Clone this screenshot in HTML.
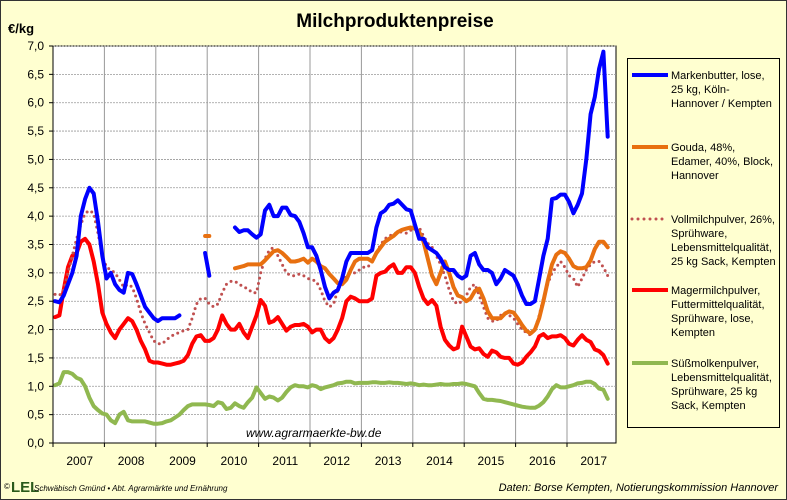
<!DOCTYPE html>
<html><head><meta charset="utf-8"><style>
body{margin:0;background:#ffffd0;}
svg{display:block;font-family:"Liberation Sans",sans-serif;}
</style></head><body>
<svg id="chart" width="787" height="500" viewBox="0 0 787 500" xmlns="http://www.w3.org/2000/svg">
<rect x="0.5" y="0.5" width="786" height="499" fill="#ffffd0" stroke="#333" stroke-width="1"/>
<text x="395" y="27" font-size="19" font-weight="bold" text-anchor="middle" fill="#000">Milchproduktenpreise</text>
<text x="8" y="33" font-size="13" font-weight="bold" fill="#000">€/kg</text>
<rect x="53" y="46" width="563" height="397" fill="#fff" stroke="#000" stroke-width="1"/>
<g id="grid"></g><g id="series"></g><g id="axes"></g>
<text x="246" y="437" font-size="12" font-style="italic" fill="#000">www.agrarmaerkte-bw.de</text>
<rect x="627.5" y="58.5" width="152" height="369" fill="#ffffd0" stroke="#000" stroke-width="1"/>
<g id="legend" font-size="11" fill="#000"></g>
<text x="4" y="489" font-size="8">©</text>
<text x="11" y="492" font-size="15" font-weight="bold" fill="#2a5a1a">LEL</text>
<text x="34" y="491" font-size="8" font-style="italic" fill="#000">Schwäbisch Gmünd • Abt. Agrarmärkte und Ernährung</text>
<text x="778" y="491" font-size="11" font-style="italic" text-anchor="end" fill="#000">Daten: Borse Kempten, Notierungskommission Hannover</text>
</svg>
<script>
const years=['2007','2008','2009','2010','2011','2012','2013','2014','2015','2016','2017'];
const yTicks=[0,0.5,1,1.5,2,2.5,3,3.5,4,4.5,5,5.5,6,6.5,7];
const N=null;
const butter=[2.5,2.48,2.6,2.8,3.0,3.3,4.0,4.3,4.5,4.4,3.9,3.3,2.9,3.0,2.8,2.7,2.65,3.0,2.98,2.8,2.6,2.4,2.3,2.2,2.15,2.2,2.2,2.2,2.2,2.25,N,N,N,N,N,3.35,2.95,N,N,N,N,N,3.8,3.72,3.75,3.75,3.68,3.62,3.68,4.1,4.2,4.0,4.0,4.15,4.15,4.02,4.0,3.9,3.7,3.45,3.45,3.3,3.05,2.75,2.55,2.65,2.7,2.9,3.2,3.35,3.35,3.35,3.35,3.35,3.4,3.8,4.05,4.1,4.2,4.22,4.28,4.2,4.12,4.1,3.85,3.6,3.6,3.45,3.4,3.35,3.25,3.1,3.05,3.05,2.95,2.9,2.95,3.3,3.35,3.15,3.05,3.05,3.0,2.8,2.9,3.05,3.0,2.95,2.8,2.6,2.45,2.45,2.5,2.9,3.3,3.6,4.3,4.32,4.38,4.38,4.25,4.05,4.2,4.4,5.0,5.8,6.1,6.6,6.9,5.4];
const gouda=[N,N,N,N,N,N,N,N,N,N,N,N,N,N,N,N,N,N,N,N,N,N,N,N,N,N,N,N,N,N,N,N,N,N,N,3.65,3.65,N,N,N,N,N,3.08,3.1,3.12,3.15,3.15,3.15,3.15,3.22,3.3,3.38,3.4,3.35,3.28,3.2,3.2,3.22,3.25,3.18,3.25,3.2,3.12,3.08,2.98,2.9,2.82,2.8,2.88,3.05,3.2,3.25,3.25,3.25,3.2,3.35,3.45,3.55,3.6,3.65,3.72,3.76,3.78,3.8,3.78,3.72,3.55,3.25,2.95,2.8,3.0,3.2,3.0,2.75,2.6,2.57,2.5,2.55,2.68,2.72,2.55,2.32,2.2,2.2,2.2,2.28,2.32,2.3,2.2,2.08,1.98,1.93,2.0,2.2,2.5,2.85,3.15,3.32,3.38,3.35,3.25,3.12,3.08,3.08,3.1,3.22,3.42,3.55,3.55,3.45];
const vollmilch=[2.62,2.6,2.7,3.0,3.3,3.6,3.85,4.05,4.1,4.05,3.7,3.3,3.1,3.05,3.0,2.88,2.75,2.8,2.75,2.55,2.3,2.1,1.95,1.8,1.75,1.75,1.82,1.88,1.92,1.95,1.98,2.0,2.2,2.45,2.55,2.55,2.45,2.4,2.45,2.65,2.8,2.85,2.85,2.8,2.75,2.72,2.65,2.65,3.0,3.25,3.4,3.45,3.3,3.15,3.0,2.95,2.95,2.98,2.95,2.9,2.88,2.85,2.7,2.5,2.4,2.45,2.7,2.85,2.95,3.0,3.0,3.05,3.1,3.1,3.2,3.35,3.5,3.6,3.65,3.68,3.72,3.72,3.7,3.75,3.78,3.8,3.65,3.52,3.45,3.3,3.15,2.95,2.7,2.5,2.45,2.5,2.6,2.75,2.8,2.6,2.4,2.2,2.15,2.15,2.25,2.3,2.25,2.2,2.1,2.0,1.95,1.9,2.0,2.25,2.55,2.8,3.0,3.1,3.2,3.1,2.95,2.9,2.75,2.9,3.05,3.15,3.2,3.2,3.1,2.95];
const mager=[2.22,2.25,2.7,3.1,3.3,3.35,3.55,3.6,3.5,3.2,2.8,2.3,2.1,1.95,1.85,2.0,2.1,2.2,2.15,2.0,1.8,1.65,1.45,1.42,1.42,1.4,1.38,1.38,1.4,1.42,1.45,1.55,1.75,1.88,1.9,1.8,1.8,1.85,2.0,2.25,2.1,2.0,2.0,2.1,1.95,1.85,2.05,2.25,2.52,2.42,2.12,2.15,2.22,2.1,1.98,2.05,2.08,2.08,2.1,2.05,1.95,2.0,2.0,1.85,1.78,1.85,2.0,2.2,2.5,2.58,2.55,2.5,2.5,2.5,2.55,2.95,3.0,3.02,3.1,3.15,3.0,3.0,3.1,3.1,3.0,2.75,2.55,2.45,2.52,2.42,2.05,1.82,1.72,1.65,1.68,2.05,1.88,1.7,1.65,1.67,1.57,1.52,1.63,1.6,1.52,1.5,1.5,1.4,1.38,1.42,1.52,1.6,1.7,1.88,1.92,1.85,1.88,1.88,1.9,1.85,1.75,1.72,1.82,1.9,1.82,1.78,1.65,1.62,1.55,1.4];
const molke=[1.02,1.05,1.25,1.25,1.22,1.15,1.12,1.0,0.8,0.65,0.58,0.52,0.5,0.4,0.35,0.5,0.55,0.4,0.38,0.38,0.38,0.38,0.36,0.34,0.34,0.35,0.38,0.4,0.45,0.5,0.58,0.65,0.68,0.68,0.68,0.68,0.67,0.65,0.72,0.7,0.6,0.62,0.7,0.65,0.62,0.72,0.8,0.98,0.88,0.78,0.82,0.8,0.75,0.8,0.9,0.98,1.02,1.0,1.0,0.98,1.02,1.0,0.95,0.98,1.0,1.02,1.05,1.06,1.08,1.08,1.05,1.06,1.06,1.06,1.07,1.07,1.06,1.06,1.07,1.06,1.06,1.05,1.04,1.05,1.04,1.02,1.03,1.02,1.02,1.03,1.04,1.03,1.03,1.04,1.04,1.05,1.04,1.02,1.0,0.88,0.78,0.76,0.76,0.75,0.74,0.72,0.7,0.68,0.66,0.64,0.63,0.62,0.62,0.66,0.72,0.82,0.95,1.02,0.98,0.98,1.0,1.02,1.05,1.06,1.08,1.08,1.04,0.96,0.94,0.78];
const legendLabels=[["Markenbutter, lose,","25 kg, Köln-","Hannover / Kempten"],["Gouda, 48%,","Edamer, 40%, Block,","Hannover"],["Vollmilchpulver, 26%,","Sprühware,","Lebensmittelqualität,","25 kg Sack, Kempten"],["Magermilchpulver,","Futtermittelqualität,","Sprühware, lose,","Kempten"],["Süßmolkenpulver,","Lebensmittelqualität,","Sprühware, 25 kg","Sack, Kempten"]];

const NS='http://www.w3.org/2000/svg';
const X0=53,X1=616,Y0=443,Y1=46,yearW=51.4;
const xm=m=>X0+(m+0.5)*yearW/12;
const yv=v=>Y0-(v/7)*(Y0-Y1);
function mk(tag,attrs,parent){const e=document.createElementNS(NS,tag);for(const k in attrs)e.setAttribute(k,attrs[k]);parent.appendChild(e);return e;}
const grid=document.getElementById('grid'),axes=document.getElementById('axes'),ser=document.getElementById('series'),leg=document.getElementById('legend');
yTicks.forEach(t=>{const y=yv(t);
 if(t>0){const l=mk('line',{x1:X0,x2:X1,y1:y,y2:y,stroke:'#999','stroke-width':0.8,'stroke-dasharray':'2,1'},grid);
 
 }
 const tk=mk('line',{x1:X0-4,x2:X0,y1:y,y2:y,stroke:'#000'},axes);
 
 
 const tx=mk('text',{x:X0-9,y:y+4,'font-size':12,'text-anchor':'end',fill:'#000'},axes);
 
 
 tx.textContent=t.toFixed(1).replace('.',',');});
years.forEach((yr,i)=>{const x=X0+i*yearW;
 if(i>0){const l=mk('line',{x1:x,x2:x,y1:Y1,y2:Y0,stroke:'#999','stroke-width':1},grid);
 
 }
 const tk=mk('line',{x1:x,x2:x,y1:Y0,y2:Y0+4,stroke:'#000'},axes);
 
 
 const tx=mk('text',{x:x+yearW/2+1,y:Y0+22,'font-size':12,'text-anchor':'middle',fill:'#000'},axes);
 
 
 tx.textContent=yr;});
mk('line',{x1:X0,x2:X0,y1:Y1,y2:Y0,stroke:'#000'},axes);
mk('line',{x1:X0,x2:X1,y1:Y0,y2:Y0,stroke:'#000'},axes);
const styles=[{d:butter,c:'#0000ff',n:'series-markenbutter'},{d:gouda,c:'#e87010',n:'series-gouda'},{d:vollmilch,c:'#c05050',n:'series-vollmilchpulver',dot:true},{d:mager,c:'#ff0000',n:'series-magermilchpulver'},{d:molke,c:'#90b850',n:'series-suessmolkenpulver'}];
const order=[4,3,2,1,0];
order.forEach(i=>{const s=styles[i];let d='',pen=false;
 s.d.forEach((v,m)=>{if(v===null){pen=false;return;}d+=(pen?'L':'M')+xm(m).toFixed(1)+','+yv(v).toFixed(1);pen=true;});
 const p=mk('path',{d:d,fill:'none',stroke:s.c,'stroke-width':s.dot?2.6:4,'stroke-linejoin':'round','stroke-linecap':'round'},ser);
 if(s.dot){p.setAttribute('stroke-dasharray','0,5.5');p.setAttribute('stroke-width','3');}
 
 });
const legTops=[75,147,219,290,363];
styles.forEach((s,i)=>{const y=legTops[i];
 const l=mk('line',{x1:632,x2:668,y1:y,y2:y,stroke:s.c,'stroke-width':s.dot?2.6:4},leg);
 if(s.dot){l.setAttribute('stroke-dasharray','0,6');l.setAttribute('stroke-linecap','round');l.setAttribute('stroke-width','3');}
 
 
 legendLabels[i].forEach((t,j)=>{const tx=mk('text',{x:671,y:y+4+j*14,'font-size':11,fill:'#000'},leg);
 
 
 tx.textContent=t;});});
</script>
</body></html>
